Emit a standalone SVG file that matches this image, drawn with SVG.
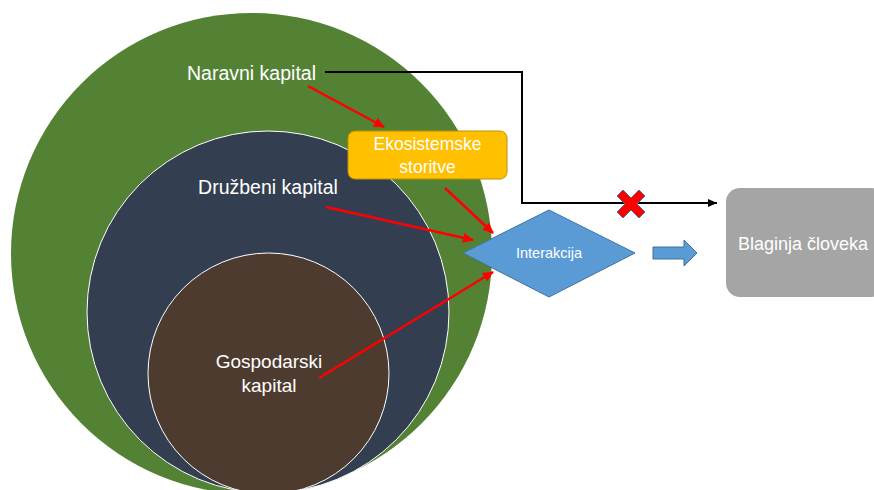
<svg xmlns="http://www.w3.org/2000/svg" width="874" height="490" viewBox="0 0 874 490">
<style>
.lbl{font-family:"Liberation Sans",Arial,sans-serif;fill:#FFFFFF;text-anchor:middle}
.red{stroke:#FF0000;stroke-width:2.5;fill:none;marker-end:url(#ra)}
</style>
<defs>
<marker id="ra" markerUnits="userSpaceOnUse" markerWidth="12" markerHeight="10" refX="10" refY="5" orient="auto">
<path d="M0,0 L11,5 L0,10 Z" fill="#FF0000"/>
</marker>
<marker id="ba" markerUnits="userSpaceOnUse" markerWidth="10" markerHeight="10" refX="9" refY="5" orient="auto">
<path d="M0,1 L9,5 L0,9 Z" fill="#000000"/>
</marker>
</defs>
<rect width="874" height="490" fill="#FFFFFF"/>
<g id="naravni">
<circle cx="251.5" cy="253.5" r="240.5" fill="#548235"/>
<text class="lbl" x="251.5" y="80" font-size="19.5">Naravni kapital</text>
</g>
<g id="druzbeni">
<circle cx="268" cy="312" r="181" fill="#333F50" stroke="#FFFFFF" stroke-width="1"/>
<text class="lbl" x="268" y="194" font-size="19.5">Družbeni kapital</text>
</g>
<g id="gospodarski">
<circle cx="268.5" cy="373.5" r="120.5" fill="#4E3B30" stroke="#FFFFFF" stroke-width="1"/>
<text class="lbl" x="269" y="368" font-size="19">Gospodarski</text>
<text class="lbl" x="269" y="392" font-size="19">kapital</text>
</g>
<g id="ekosistemske">
<rect x="348" y="131" width="159" height="48" rx="7" fill="#FFC000" stroke="#BF9000" stroke-width="1"/>
<text class="lbl" x="427.5" y="150" font-size="17.5">Ekosistemske</text>
<text class="lbl" x="427.5" y="173" font-size="17.5">storitve</text>
</g>
<g id="interakcija">
<polygon points="463,253 549,210 635,253 549,297" fill="#5B9BD5" stroke="#41719C" stroke-width="1"/>
<text class="lbl" x="549" y="258" font-size="14.5">Interakcija</text>
</g>
<g id="blaginja">
<rect x="726" y="188" width="160" height="109" rx="14" fill="#A5A5A5"/>
<text class="lbl" x="803" y="250" font-size="18">Blaginja človeka</text>
</g>
<g id="connectors">
<polyline points="325,72 522,72 522,203 717,203" fill="none" stroke="#000000" stroke-width="2" marker-end="url(#ba)"/>
<line class="red" x1="308" y1="86" x2="384" y2="127"/>
<line class="red" x1="326" y1="207" x2="473" y2="240"/>
<line class="red" x1="445" y1="188" x2="493" y2="233"/>
<line class="red" x1="319" y1="378" x2="493" y2="272"/>
<polygon points="653,247 684,247 684,240 697,253 684,266 684,259 653,259" fill="#5B9BD5" stroke="#41719C" stroke-width="1"/>
<polygon transform="translate(631,204)" points="-14,-8 -8,-14 0,-6 8,-14 14,-8 6,0 14,8 8,14 0,6 -8,14 -14,8 -6,0" fill="#FF0000" stroke="#41719C" stroke-width="1"/>
</g>
</svg>
